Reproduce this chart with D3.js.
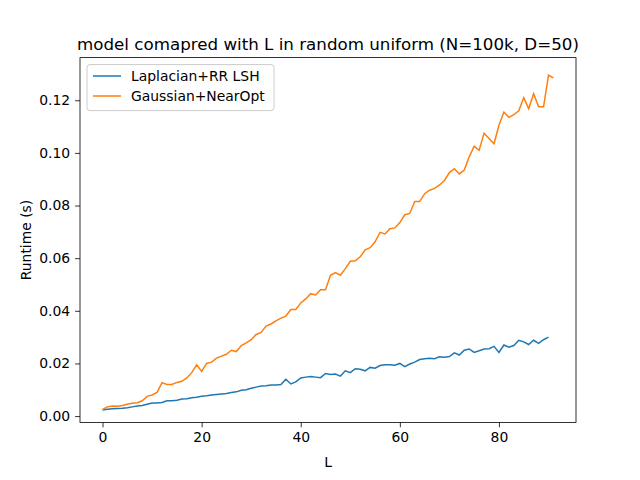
<!DOCTYPE html><html><head><meta charset="utf-8"><script src="https://cdn.jsdelivr.net/npm/d3@7"></script>
<style>body{margin:0;background:#fff}text{font-family:"DejaVu Sans",sans-serif}</style></head><body><svg width="640" height="480"></svg>
<script>
const title="model comapred with L in random uniform (N=100k, D=50)";
const seriesNames=["Laplacian+RR LSH","Gaussian+NearOpt"];
const colors=["#1f77b4","#ff7f0e"];
const xTicks=[0,20,40,60,80];
const yTicks=[0,0.02,0.04,0.06,0.08,0.10,0.12];
const gaussian=[.0025,.0035,.0038,.0037,.0040,.0045,.0049,.0051,.0058,.0075,.0080,.0090,.0127,.0120,.0120,.0128,.0132,.0145,.0165,.0195,.0170,.0200,.0205,.0220,.0228,.0235,.0250,.0245,.0268,.0278,.0290,.0310,.0318,.0342,.0350,.0362,.0372,.0380,.0405,.0405,.0430,.0445,.0465,.0460,.0480,.0480,.0535,.0545,.0535,.0560,.0588,.0590,.0605,.0632,.0640,.0662,.0698,.0692,.0712,.0715,.0735,.0765,.0770,.0815,.0815,.0845,.0858,.0865,.0878,.0895,.0925,.0940,.0920,.0935,.0985,.1025,.1010,.1075,.1055,.1035,.1105,.1155,.1135,.1145,.1160,.1210,.1168,.1225,.1175,.1175,.1295,.1285];
const laplacian=[.0023,.0026,.0028,.0029,.0030,.0032,.0035,.0038,.0040,.0045,.0050,.0050,.0052,.0058,.0058,.0060,.0065,.0066,.0070,.0072,.0075,.0077,.0080,.0082,.0084,.0086,.0090,.0092,.0098,.0100,.0106,.0110,.0114,.0115,.0118,.0118,.0120,.0140,.0122,.0130,.0145,.0148,.0150,.0148,.0146,.0162,.0158,.0160,.0152,.0172,.0165,.0180,.0178,.0172,.0185,.0182,.0192,.0195,.0195,.0193,.0200,.0188,.0198,.0205,.0215,.0218,.0220,.0218,.0225,.0224,.0226,.0240,.0232,.0250,.0255,.0242,.0248,.0255,.0256,.0265,.0242,.0270,.0262,.0268,.0288,.0282,.0272,.0288,.0276,.0290,.0300];
const svg=d3.select("svg");
const L=80,R=576,T=57.6,B=422.4;
const n=gaussian.length;
const x=d3.scaleLinear().domain([-(n-1)*0.05,(n-1)*1.05]).range([L,R]);
const y=d3.scaleLinear().domain([-0.0024,0.1362]).range([B,T]);
const gx=svg.append("g").attr("transform",`translate(0,${B})`).call(d3.axisBottom(x).tickValues(xTicks).tickFormat(d3.format("d")).tickSizeOuter(0).tickSize(4.9).tickPadding(4.9));
const gy=svg.append("g").attr("transform",`translate(${L},0)`).call(d3.axisLeft(y).tickValues(yTicks).tickFormat(d3.format(".2f")).tickSizeOuter(0).tickSize(4.9).tickPadding(4.9));
[gx,gy].forEach(g=>{g.select(".domain").remove();g.selectAll("text").attr("font-size",13.9).attr("fill","#000");g.selectAll("line").attr("stroke","#000").attr("stroke-width",0.8);});
const line=d3.line().x((d,i)=>x(i)).y(d=>y(d));
[laplacian,gaussian].forEach((s,k)=>svg.append("path").datum(s).attr("d",line).attr("fill","none").attr("stroke",colors[k]).attr("stroke-width",1.5));
svg.append("rect").attr("x",L).attr("y",T).attr("width",R-L).attr("height",B-T).attr("fill","none").attr("stroke","#000").attr("stroke-width",0.8);
svg.append("text").attr("x",(L+R)/2).attr("y",50).attr("text-anchor","middle").attr("font-size",16.7).text(title);
svg.append("text").attr("x",(L+R)/2).attr("y",467).attr("text-anchor","middle").attr("font-size",13.9).text("L");
svg.append("text").attr("transform",`translate(31,${(T+B)/2}) rotate(-90)`).attr("text-anchor","middle").attr("font-size",13.9).text("Runtime (s)");
const lg=svg.append("g");
lg.append("rect").attr("x",87).attr("y",64.6).attr("width",187).attr("height",46).attr("rx",3).attr("fill","#fff").attr("fill-opacity",0.8).attr("stroke","#ccc");
seriesNames.forEach((nm,k)=>{const yy=81+k*20;
lg.append("line").attr("x1",93).attr("x2",121).attr("y1",yy-5).attr("y2",yy-5).attr("stroke",colors[k]).attr("stroke-width",1.5);
lg.append("text").attr("x",131).attr("y",yy).attr("font-size",13.9).text(nm);});
</script></body></html>
